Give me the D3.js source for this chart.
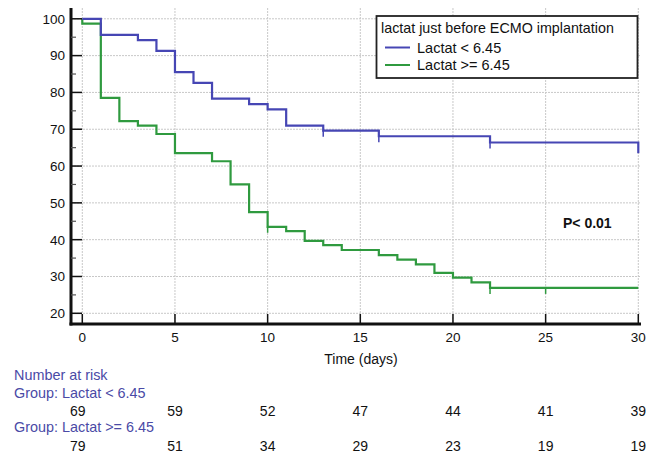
<!DOCTYPE html>
<html>
<head>
<meta charset="utf-8">
<script src="https://cdn.jsdelivr.net/npm/d3@7"></script>
<style>
  html, body { margin: 0; padding: 0; background: #fff; }
  svg { display: block; font-family: "Liberation Sans", Arial, sans-serif; }
</style>
</head>
<body>
<svg id="chart" width="648" height="454"></svg>
<script>
// ---- data ----
const seriesNames = ["Lactat < 6.45", "Lactat >= 6.45"];
const seriesColors = ["#4646b4", "#2f9a3f"];
// step points [day, survival %]
const lowDays   = [0, 1, 3, 4, 5, 6, 7, 9, 10, 11, 13, 16, 22, 30];
const lowSurv   = [100, 95.65, 94.2, 91.3, 85.5, 82.6, 78.3, 76.8, 75.4, 71.0, 69.6, 68.1, 66.4, 63.5];
const highDays  = [0, 0, 1, 2, 3, 4, 5, 7, 8, 9, 10, 11, 12, 13, 14, 16, 17, 18, 19, 20, 21, 22, 30];
const highSurv  = [100, 98.7, 78.5, 72.2, 71.0, 68.7, 63.5, 61.3, 55.0, 47.5, 43.5, 42.3, 39.7, 38.5, 37.2, 35.8, 34.6, 33.3, 31.0, 29.7, 28.4, 26.9, 26.9];
const lowCensor  = [13, 16, 22];
const highCensor = [10, 22, 25];
const xTicks = [0, 5, 10, 15, 20, 25, 30];
const yTicks = [20, 30, 40, 50, 60, 70, 80, 90, 100];
const yMinor = [25, 35, 45, 55, 65, 75, 85, 95];
const riskTimes = [0, 5, 10, 15, 20, 25, 30];
const riskLow  = [69, 59, 52, 47, 44, 41, 39];
const riskHigh = [79, 51, 34, 29, 23, 19, 19];
const legendTitle = "lactat just before ECMO implantation";
const pText = "P< 0.01";
const xTitle = "Time (days)";

// ---- layout ----
const svg = d3.select("#chart");
const x = d3.scaleLinear().domain([0, 30]).range([82.3, 638.3]);
const y = d3.scaleLinear().domain([20, 100]).range([313.3, 18.8]);
const axisLeftX = 71, axisBottomY = 324, plotRight = 641, plotTop = 8;

// grid
const grid = svg.append("g");
grid.selectAll("line.gy").data(yTicks).join("line")
  .attr("x1", axisLeftX).attr("x2", plotRight)
  .attr("y1", d => y(d)).attr("y2", d => y(d))
  .attr("stroke", "#c8c8c8").attr("stroke-width", 1).attr("stroke-dasharray", "2,1");
grid.selectAll("line.gx").data(xTicks).join("line")
  .attr("y1", plotTop).attr("y2", axisBottomY)
  .attr("x1", d => x(d)).attr("x2", d => x(d))
  .attr("stroke", "#c8c8c8").attr("stroke-width", 1).attr("stroke-dasharray", "2,1");

// curves
function stepPath(days, surv) {
  const pts = days.map((d, i) => [d, surv[i]]);
  return d3.line().x(d => x(d[0])).y(d => y(d[1])).curve(d3.curveStepAfter)(pts);
}
const curves = [[lowDays, lowSurv, lowCensor], [highDays, highSurv, highCensor]];
[1, 0].forEach(k => {
  const [days, surv, cens] = curves[k];
  svg.append("path").attr("d", stepPath(days, surv))
    .attr("fill", "none").attr("stroke", seriesColors[k]).attr("stroke-width", 2.2);
  const survAt = t => { let v = surv[0]; days.forEach((d, i) => { if (d <= t) v = surv[i]; }); return v; };
  svg.selectAll(null).data(cens).join("line")
    .attr("x1", d => x(d)).attr("x2", d => x(d))
    .attr("y1", d => y(survAt(d)) - 1).attr("y2", d => y(survAt(d)) + 6)
    .attr("stroke", seriesColors[k]).attr("stroke-width", 1.5);
});

// axes
const ax = svg.append("g").attr("stroke", "#111");
ax.append("line").attr("x1", axisLeftX).attr("x2", axisLeftX).attr("y1", plotTop).attr("y2", axisBottomY + 1.5).attr("stroke-width", 3);
ax.append("line").attr("x1", axisLeftX - 1.5).attr("x2", plotRight).attr("y1", axisBottomY).attr("y2", axisBottomY).attr("stroke-width", 3);
ax.selectAll("line.yt").data(yTicks).join("line")
  .attr("x1", axisLeftX).attr("x2", axisLeftX + 11).attr("y1", d => y(d)).attr("y2", d => y(d)).attr("stroke-width", 1.5);
ax.selectAll("line.ym").data(yMinor).join("line")
  .attr("x1", axisLeftX).attr("x2", axisLeftX + 5).attr("y1", d => y(d)).attr("y2", d => y(d)).attr("stroke-width", 1.2).attr("stroke", "#555");
ax.selectAll("line.xt").data(xTicks).join("line")
  .attr("y1", axisBottomY).attr("y2", axisBottomY - 10).attr("x1", d => x(d)).attr("x2", d => x(d)).attr("stroke-width", 1.5);

svg.selectAll("text.yl").data(yTicks).join("text")
  .attr("x", 65).attr("y", d => y(d)).attr("dy", "0.36em").attr("text-anchor", "end")
  .attr("font-size", 13.5).attr("fill", "#111").text(d => d);
svg.selectAll("text.xl").data(xTicks).join("text")
  .attr("x", d => x(d)).attr("y", 337).attr("dy", "0.36em").attr("text-anchor", "middle")
  .attr("font-size", 13.5).attr("fill", "#111").text(d => d);
svg.append("text").attr("x", 361).attr("y", 359).attr("dy", "0.36em").attr("text-anchor", "middle")
  .attr("font-size", 14).attr("fill", "#111").text(xTitle);

// legend
const lg = svg.append("g");
lg.append("rect").attr("x", 376.5).attr("y", 16).attr("width", 261).attr("height", 62)
  .attr("fill", "#fff").attr("stroke", "#222").attr("stroke-width", 1.8);
lg.append("text").attr("x", 381).attr("y", 33).attr("font-size", 14.3).attr("fill", "#111").text(legendTitle);
seriesNames.forEach((n, i) => {
  const yy = 47.5 + i * 17.5;
  lg.append("line").attr("x1", 385).attr("x2", 410).attr("y1", yy).attr("y2", yy)
    .attr("stroke", seriesColors[i]).attr("stroke-width", 2);
  lg.append("text").attr("x", 417).attr("y", yy).attr("dy", "0.36em").attr("font-size", 14.5).attr("fill", "#111").text(n);
});

// p-value
svg.append("text").attr("x", 563).attr("y", 223).attr("dy", "0.36em").attr("font-size", 14).attr("font-weight", "bold")
  .attr("fill", "#111").text(pText);

// number at risk table
const groupColor = "#4a4aa6";
svg.append("text").attr("x", 14).attr("y", 375).attr("dy", "0.36em").attr("font-size", 14.4).attr("fill", groupColor).text("Number at risk");
svg.append("text").attr("x", 14).attr("y", 393.3).attr("dy", "0.36em").attr("font-size", 14.4).attr("fill", groupColor).text("Group: " + seriesNames[0]);
svg.append("text").attr("x", 14).attr("y", 427.3).attr("dy", "0.36em").attr("font-size", 14.4).attr("fill", groupColor).text("Group: " + seriesNames[1]);
[[riskLow, 411], [riskHigh, 446]].forEach(([vals, yy]) => {
  svg.selectAll(null).data(vals).join("text")
    .attr("x", (d, i) => x(riskTimes[i]) - (i === 0 ? 4.5 : 0)).attr("y", yy).attr("dy", "0.36em").attr("text-anchor", "middle")
    .attr("font-size", 14).attr("fill", "#111").text(d => d);
});
</script>
</body>
</html>
